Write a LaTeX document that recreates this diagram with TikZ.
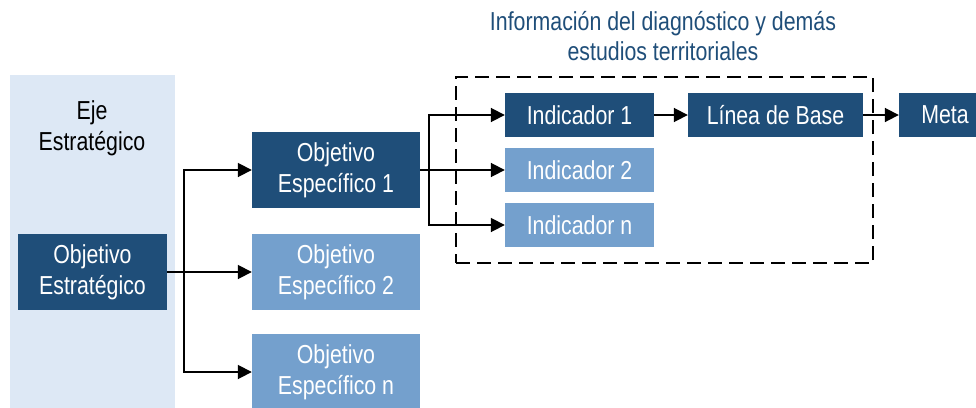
\documentclass[tikz,border=0pt]{standalone}
\usepackage{fontspec}
\setmainfont{Liberation Sans}[FakeStretch=0.82]
\usepackage{xcolor}
\usetikzlibrary{
	arrows.meta,
	positioning,
	calc
}
\definecolor{darkblue}{HTML}{1F4E79}
\definecolor{lightblue}{HTML}{74A0CD}
\definecolor{panelblue}{HTML}{DDE8F5}

\begin{document}
\begin{tikzpicture}[
					x=1pt, y=-1pt,
					dark/.style={
							rectangle,
							fill=darkblue,
							text=white,
							inner sep=0pt,
							font=\fontsize{26}{31}\selectfont,
							align=center
						},
					light/.style={
							dark,
							fill=lightblue
						},
					link/.style={
							line width=1.8pt,
							draw=black
						},
					>={Triangle[length=14pt,width=14pt]}
				]
				\useasboundingbox (0,0) rectangle (976,407);

				% panel of the strategic axis
				\fill[panelblue] (10,75) rectangle (175,410);
				\node[font=\fontsize{26}{31}\selectfont, align=center] (Eje) at (92,128) {Eje\\Estratégico};

				\node[dark, minimum width=149pt, minimum height=76pt] (OEst) at (92.5,272) {Objetivo\\Estratégico};

				\node[dark, minimum width=168pt, minimum height=76pt] (OE1) at (336,170) {Objetivo\\Específico 1};
				\node[light, minimum width=168pt, minimum height=76pt] (OE2) at (336,272) {Objetivo\\Específico 2};
				\node[light, minimum width=168pt, minimum height=76pt] (OEn) at (336,372) {Objetivo\\Específico n};

				% dashed frame and its title
				\node[draw, dash pattern=on 14pt off 7pt, line width=1.8pt, minimum width=417pt, minimum height=186pt, inner sep=0pt] (Info) at (664.5,170) {};
				\node[text=darkblue, font=\fontsize{26}{30}\selectfont, align=center] (Titulo) at (663,36) {Información del diagnóstico y demás\\estudios territoriales};

				\node[dark, minimum width=149pt, minimum height=44pt] (Ind1) at (579.5,115) {Indicador 1};
				\node[light, minimum width=149pt, minimum height=44pt] (Ind2) at (579.5,170) {Indicador 2};
				\node[light, minimum width=149pt, minimum height=44pt] (Indn) at (579.5,225) {Indicador n};

				\node[dark, minimum width=175pt, minimum height=44pt] (LdB) at (775.5,115) {Línea de Base};
				\node[dark, minimum width=92pt, minimum height=44pt] (Meta) at (945,115) {Meta};

				\coordinate (split1) at (184,272);
				\coordinate (split2) at (429,170);

				\draw[link] (OEst.east) -- (split1);
				\draw[link, ->] (split1) |- (OE1.west);
				\draw[link, ->] (split1) -- (OE2.west);
				\draw[link, ->] (split1) |- (OEn.west);

				\draw[link] (OE1.east) -- (split2);
				\draw[link, ->] (split2) |- (Ind1.west);
				\draw[link, ->] (split2) -- (Ind2.west);
				\draw[link, ->] (split2) |- (Indn.west);

				\draw[link, ->] (Ind1.east) -- (LdB.west);
				\draw[link, ->] (LdB.east) -- (Meta.west);
		\end{tikzpicture}
\end{document}
